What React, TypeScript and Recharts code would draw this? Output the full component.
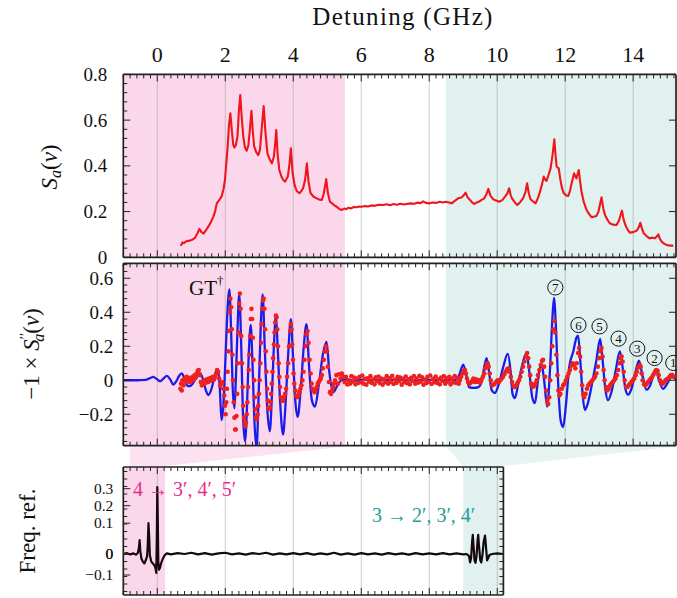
import React from 'react';
import { ComposedChart, Line, Scatter, XAxis, YAxis, ReferenceArea, ReferenceLine, ReferenceDot } from 'recharts';

const W = 677;
const H = 598;
const FONT = '"Liberation Serif", "DejaVu Serif", serif';

// ---------- layout (pixels) ----------
const PL = 123.3;
const PR_MAIN = 676;
const PR_REF = 503.4;
const TOP_Y0 = 74.4, TOP_Y1 = 257.3;
const MID_Y0 = 263.3, MID_Y1 = 445.7;
const REF_Y0 = 467, REF_Y1 = 595;
const AX = 1; // reserved axis thickness

// ---------- axes / ticks ----------
const xDomainMain: [number, number] = [-1, 15.26];
const xDomainRef: [number, number] = [-1, 10.18];
const xMajorTicks = [0, 2, 4, 6, 8, 10, 12, 14];
const xMajorLabels = ['0', '2', '4', '6', '8', '10', '12', '14'];
const xRefMajorTicks = [0, 2, 4, 6, 8, 10];
const topYTicks = [0, 0.2, 0.4, 0.6, 0.8];
const topYLabels = ['0', '0.2', '0.4', '0.6', '0.8'];
const midYTicks = [-0.2, 0, 0.2, 0.4, 0.6];
const midYLabels = ['\u22120.2', '0', '0.2', '0.4', '0.6'];
const freqYTicks = [-0.1, 0, 0.1, 0.2, 0.3];
const freqYLabels = ['\u22120.1', '0', '0.1', '0.2', '0.3'];
// pixel offset of each Freq. ref. tick above the zero line (the axis is not linear)
const freqYTickOffsets = [-21, 0, 30.8, 48.3, 65.3];
const freqYDomain: [number, number] = [-41, 87];

// shaded bands (GHz)
const pinkBand = [-1, 5.52];
const tealBand = [8.49, 15.26];
const refPinkBand = [-1, 0.23];
const refTealBand = [9.0, 10.18];
const trapPinkTop = [-0.8, 5.52];
const trapPinkBottom = [-0.8, 0.23];
const trapTealTop = [8.49, 15.26];
const trapTealBottom = [9.0, 10.18];

// ---------- data ----------
const spectrum: [number, number][] = [
  [0.69,0.05],[0.74,0.065],[0.78,0.062],[0.85,0.07],[0.96,0.073],[1.04,0.078],[1.11,0.085],[1.18,0.105],[1.24,0.124],[1.30,0.11],
  [1.36,0.104],[1.43,0.118],[1.50,0.134],[1.58,0.155],[1.65,0.178],[1.70,0.2],[1.75,0.236],[1.82,0.25],[1.89,0.265],[1.95,0.3],
  [1.99,0.338],[2.03,0.41],[2.07,0.484],[2.11,0.58],[2.15,0.63],[2.19,0.56],[2.23,0.495],[2.27,0.48],[2.31,0.49],[2.36,0.53],
  [2.40,0.64],[2.44,0.71],[2.48,0.62],[2.53,0.528],[2.58,0.48],[2.63,0.466],[2.68,0.49],[2.73,0.57],[2.77,0.641],[2.81,0.55],
  [2.85,0.485],[2.91,0.46],[2.97,0.447],[3.02,0.47],[3.07,0.56],[3.13,0.662],[3.18,0.55],[3.24,0.455],[3.30,0.43],[3.37,0.411],
  [3.43,0.44],[3.47,0.5],[3.50,0.557],[3.54,0.45],[3.59,0.382],[3.66,0.35],[3.72,0.336],[3.76,0.331],[3.84,0.353],[3.89,0.41],
  [3.93,0.477],[3.98,0.37],[4.04,0.316],[4.10,0.29],[4.18,0.28],[4.24,0.29],[4.29,0.302],[4.35,0.34],[4.40,0.411],[4.45,0.33],
  [4.51,0.28],[4.60,0.265],[4.69,0.258],[4.77,0.252],[4.84,0.251],[4.90,0.28],[4.97,0.342],[5.02,0.28],[5.08,0.243],[5.15,0.235],
  [5.22,0.226],[5.28,0.221],[5.35,0.212],[5.42,0.207],[5.50,0.213],[5.56,0.21],[5.62,0.217],[5.70,0.214],[5.78,0.22],[5.86,0.219],
  [5.95,0.222],[6.01,0.221],[6.10,0.224],[6.20,0.222],[6.30,0.227],[6.40,0.225],[6.50,0.23],[6.65,0.229],[6.75,0.232],[6.85,0.228],
  [6.95,0.233],[7.05,0.23],[7.15,0.234],[7.25,0.231],[7.33,0.233],[7.45,0.236],[7.55,0.234],[7.65,0.239],[7.75,0.237],[7.82,0.245],
  [7.90,0.238],[8.01,0.236],[8.10,0.24],[8.20,0.238],[8.31,0.243],[8.40,0.24],[8.49,0.243],[8.58,0.24],[8.66,0.236],[8.75,0.247],
  [8.85,0.258],[8.95,0.262],[9.02,0.272],[9.07,0.283],[9.13,0.262],[9.20,0.251],[9.26,0.24],[9.32,0.233],[9.40,0.24],[9.47,0.244],
  [9.54,0.251],[9.62,0.258],[9.68,0.275],[9.74,0.299],[9.80,0.27],[9.88,0.254],[9.97,0.248],[10.06,0.243],[10.15,0.25],[10.23,0.265],
  [10.30,0.28],[10.35,0.302],[10.40,0.27],[10.45,0.254],[10.52,0.24],[10.59,0.229],[10.67,0.24],[10.76,0.258],[10.83,0.285],[10.88,0.324],
  [10.93,0.28],[10.98,0.254],[11.05,0.245],[11.13,0.236],[11.20,0.26],[11.26,0.287],[11.32,0.32],[11.37,0.353],[11.41,0.34],[11.45,0.334],
  [11.51,0.36],[11.57,0.389],[11.63,0.45],[11.68,0.516],[11.72,0.44],[11.75,0.396],[11.81,0.389],[11.86,0.338],[11.91,0.3],[11.96,0.28],
  [12.03,0.27],[12.09,0.268],[12.14,0.29],[12.19,0.324],[12.26,0.367],[12.33,0.345],[12.40,0.382],[12.44,0.33],[12.48,0.287],[12.55,0.24],
  [12.63,0.207],[12.70,0.19],[12.78,0.175],[12.86,0.178],[12.92,0.181],[12.98,0.2],[13.03,0.235],[13.07,0.262],[13.12,0.215],[13.17,0.185],
  [13.24,0.165],[13.31,0.149],[13.40,0.143],[13.51,0.141],[13.58,0.16],[13.63,0.185],[13.67,0.204],[13.72,0.165],[13.77,0.141],[13.84,0.12],
  [13.90,0.108],[14.00,0.11],[14.10,0.116],[14.16,0.13],[14.21,0.151],[14.26,0.125],[14.31,0.105],[14.40,0.092],[14.49,0.083],[14.57,0.086],
  [14.64,0.083],[14.70,0.092],[14.74,0.1],[14.79,0.08],[14.84,0.068],[14.91,0.06],[14.98,0.054],[15.05,0.052],[15.13,0.051],[15.18,0.05],
];

const theory: [number, number][] = [
  [-1,0],[-0.6,0],[-0.35,0.002],[-0.22,0.012],[-0.12,0.02],[-0.02,0.008],[0.08,-0.006],[0.18,0.01],[0.28,0.026],[0.38,0.005],
  [0.47,-0.026],[0.56,-0.005],[0.64,0.025],[0.72,0.04],[0.8,0.01],[0.9,-0.035],[1.0,-0.03],[1.1,0.0],[1.2,0.035],[1.27,0.04],
  [1.35,0.0],[1.43,-0.06],[1.5,-0.087],[1.58,-0.06],[1.66,0.0],[1.74,0.055],[1.79,0.06],[1.84,-0.05],[1.89,-0.235],[1.94,-0.16],
  [1.99,0.05],[2.05,0.35],[2.12,0.535],[2.17,0.3],[2.22,-0.05],[2.27,-0.165],[2.31,0.0],[2.36,0.3],[2.41,0.505],[2.47,0.2],
  [2.52,-0.2],[2.58,-0.36],[2.64,-0.15],[2.69,0.15],[2.75,0.325],[2.80,0.1],[2.86,-0.25],[2.92,-0.4],[2.98,-0.1],[3.04,0.3],
  [3.10,0.505],[3.16,0.2],[3.23,-0.15],[3.31,-0.3],[3.37,-0.1],[3.43,0.2],[3.49,0.38],[3.54,0.2],[3.62,-0.15],[3.70,-0.32],
  [3.77,-0.15],[3.85,0.15],[3.93,0.36],[3.99,0.15],[4.06,-0.12],[4.13,-0.215],[4.22,-0.05],[4.31,0.2],[4.39,0.33],[4.46,0.1],
  [4.55,-0.12],[4.64,-0.155],[4.75,-0.03],[4.87,0.15],[4.98,0.225],[5.06,0.05],[5.18,-0.07],[5.3,-0.03],[5.42,0.0],[5.6,0.005],
  [5.8,-0.003],[6.0,0.004],[6.5,0.0],[7.0,0.003],[7.5,-0.002],[8.0,0.002],[8.5,0.0],[8.75,0.0],[8.88,0.03],[9.0,0.092],
  [9.1,0.02],[9.17,-0.04],[9.3,-0.045],[9.45,-0.04],[9.55,0.0],[9.62,0.08],[9.69,0.13],[9.76,0.05],[9.84,-0.06],[9.93,-0.075],
  [10.05,-0.02],[10.18,0.08],[10.31,0.155],[10.4,0.04],[10.45,-0.08],[10.52,-0.105],[10.62,-0.02],[10.75,0.1],[10.86,0.16],[10.95,0.04],
  [11.03,-0.1],[11.11,-0.135],[11.2,0.0],[11.3,0.1],[11.38,0.0],[11.47,-0.155],[11.55,0.05],[11.62,0.35],[11.67,0.485],[11.73,0.3],
  [11.8,-0.05],[11.87,-0.24],[11.94,-0.275],[12.02,-0.15],[12.12,0.08],[12.24,0.17],[12.33,0.25],[12.38,0.262],[12.45,0.1],[12.52,-0.1],
  [12.58,-0.175],[12.66,-0.14],[12.78,-0.03],[12.92,0.12],[13.03,0.243],[13.1,0.12],[13.18,-0.05],[13.26,-0.118],[13.36,-0.07],[13.48,0.05],
  [13.61,0.17],[13.7,0.06],[13.77,-0.05],[13.85,-0.085],[13.95,-0.05],[14.06,0.04],[14.17,0.115],[14.27,0.03],[14.39,-0.055],[14.5,-0.03],
  [14.58,0.02],[14.67,0.066],[14.76,0.0],[14.88,-0.051],[15.0,-0.02],[15.1,0.015],[15.18,0.027],[15.26,0.0],
];

const measured: [number, number][] = [
  [0.68,-0.05],[0.70,-0.02],[0.72,-0.06],[0.74,0.0],[0.77,-0.03],[0.80,0.01],[0.83,-0.01],[0.86,0.02],[0.89,0.0],[0.92,0.015],
  [0.95,-0.01],[0.98,0.01],[1.01,-0.005],[1.04,0.02],[1.07,0.005],[1.10,0.03],[1.13,0.015],[1.16,0.04],[1.19,0.055],[1.22,0.06],
  [1.25,0.03],[1.28,-0.01],[1.31,-0.03],[1.34,-0.01],[1.37,-0.02],[1.40,0.0],[1.43,-0.015],[1.46,0.005],[1.49,-0.01],[1.52,0.01],
  [1.55,-0.005],[1.58,0.015],[1.61,0.0],[1.64,0.02],[1.67,0.005],[1.70,0.02],[1.73,0.04],[1.76,0.06],[1.79,0.05],[1.82,0.01],
  [1.85,-0.03],[1.88,-0.02],[1.91,-0.01],[1.94,-0.05],[1.97,-0.09],[1.99,-0.15],[2.01,-0.2],[2.03,-0.13],[2.05,-0.05],[2.07,0.05],
  [2.09,0.17],[2.11,0.29],[2.13,0.4],[2.15,0.48],[2.17,0.43],[2.19,0.3],[2.21,0.15],[2.23,0.0],[2.25,-0.13],[2.27,-0.22],
  [2.29,-0.29],[2.31,-0.29],[2.33,-0.21],[2.35,-0.08],[2.37,0.1],[2.39,0.28],[2.41,0.45],[2.43,0.51],[2.45,0.42],[2.47,0.26],
  [2.49,0.1],[2.51,-0.04],[2.53,-0.15],[2.55,-0.22],[2.57,-0.25],[2.59,-0.27],[2.61,-0.25],[2.63,-0.2],[2.65,-0.13],[2.67,-0.04],
  [2.69,0.06],[2.71,0.15],[2.73,0.26],[2.75,0.36],[2.77,0.42],[2.79,0.36],[2.81,0.25],[2.83,0.12],[2.85,0.0],[2.87,-0.1],
  [2.89,-0.17],[2.91,-0.22],[2.93,-0.23],[2.95,-0.2],[2.97,-0.15],[2.99,-0.08],[3.01,0.0],[3.03,0.1],[3.05,0.22],[3.07,0.33],
  [3.09,0.42],[3.11,0.47],[3.13,0.48],[3.15,0.42],[3.17,0.3],[3.19,0.17],[3.21,0.05],[3.23,-0.05],[3.25,-0.12],[3.27,-0.16],
  [3.29,-0.17],[3.31,-0.16],[3.33,-0.13],[3.35,-0.08],[3.37,-0.02],[3.39,0.05],[3.41,0.13],[3.43,0.21],[3.45,0.28],[3.47,0.34],
  [3.49,0.38],[3.51,0.37],[3.53,0.3],[3.55,0.2],[3.57,0.1],[3.59,0.02],[3.61,-0.04],[3.64,-0.1],[3.67,-0.12],[3.70,-0.12],
  [3.73,-0.1],[3.76,-0.08],[3.79,-0.05],[3.82,0.02],[3.85,0.1],[3.88,0.2],[3.91,0.29],[3.93,0.33],[3.95,0.3],[3.97,0.21],
  [3.99,0.12],[4.01,0.04],[4.03,-0.02],[4.06,-0.06],[4.09,-0.09],[4.12,-0.1],[4.15,-0.09],[4.18,-0.07],[4.21,-0.05],[4.24,-0.03],
  [4.27,0.0],[4.30,0.05],[4.33,0.12],[4.36,0.2],[4.39,0.27],[4.42,0.29],[4.45,0.22],[4.48,0.12],[4.51,0.04],[4.54,-0.02],
  [4.57,-0.05],[4.60,-0.06],[4.63,-0.07],[4.66,-0.06],[4.69,-0.04],[4.72,-0.02],[4.75,-0.01],[4.78,0.0],[4.81,0.01],[4.84,0.03],
  [4.87,0.07],[4.90,0.12],[4.93,0.17],[4.96,0.2],[4.99,0.17],[5.02,0.08],[5.05,-0.01],[5.08,-0.07],[5.11,-0.08],[5.14,-0.06],
  [5.17,-0.04],[5.20,-0.02],[5.23,0.0],[5.27,0.03],[5.31,-0.02],[5.35,0.035],[5.39,0.01],[5.43,0.04],[5.47,0.02],[5.51,-0.01],
  [5.55,0.02],[5.59,-0.025],[5.63,0.0],[5.67,-0.02],[5.71,0.024],[5.75,-0.008],[5.79,0.016],[5.83,-0.024],[5.87,0.01],[5.91,-0.016],
  [5.95,0.02],[5.99,-0.012],[6.03,0.028],[6.07,-0.02],[6.11,0.008],[6.15,-0.026],[6.19,0.012],[6.23,-0.008],[6.27,0.024],[6.31,-0.016],
  [6.35,0.004],[6.39,-0.024],[6.43,0.018],[6.47,-0.006],[6.51,0.022],[6.55,-0.018],[6.59,0.01],[6.63,-0.026],[6.67,0.006],[6.71,-0.012],
  [6.75,0.024],[6.79,-0.02],[6.83,0.012],[6.87,-0.01],[6.91,0.026],[6.95,-0.022],[6.99,0.004],[7.03,-0.016],[7.07,0.02],[7.11,-0.006],
  [7.15,0.016],[7.19,-0.026],[7.23,0.008],[7.27,-0.012],[7.31,0.022],[7.35,-0.018],[7.39,0.006],[7.43,-0.024],[7.47,0.014],[7.51,-0.004],
  [7.55,0.024],[7.59,-0.02],[7.63,0.01],[7.67,-0.014],[7.71,0.026],[7.75,-0.008],[7.79,0.018],[7.83,-0.026],[7.87,0.004],[7.91,-0.018],
  [7.95,0.02],[7.99,-0.01],[8.03,0.028],[8.07,-0.022],[8.11,0.008],[8.15,-0.012],[8.19,0.022],[8.23,-0.016],[8.27,0.006],[8.31,-0.024],
  [8.35,0.016],[8.39,-0.004],[8.43,0.024],[8.47,-0.02],[8.51,0.012],[8.55,-0.008],[8.59,0.02],[8.63,-0.024],[8.67,0.008],[8.71,-0.012],
  [8.75,0.024],[8.79,-0.016],[8.83,0.012],[8.87,-0.02],[8.90,0.0],[8.94,0.02],[8.98,0.04],[9.02,0.055],[9.05,0.06],[9.08,0.04],
  [9.11,0.01],[9.14,-0.01],[9.18,-0.02],[9.22,-0.015],[9.26,-0.005],[9.30,0.01],[9.34,-0.01],[9.38,0.005],[9.42,-0.01],[9.46,0.0],
  [9.50,-0.015],[9.54,0.005],[9.58,0.02],[9.62,0.04],[9.65,0.07],[9.69,0.095],[9.72,0.1],[9.75,0.08],[9.78,0.04],[9.81,0.0],
  [9.85,-0.03],[9.89,-0.025],[9.93,-0.02],[9.97,-0.01],[10.01,0.0],[10.05,-0.01],[10.09,0.0],[10.13,0.01],[10.17,0.02],[10.21,0.035],
  [10.25,0.05],[10.29,0.065],[10.33,0.07],[10.36,0.05],[10.40,0.02],[10.44,-0.01],[10.48,-0.035],[10.52,-0.04],[10.56,-0.03],[10.60,-0.015],
  [10.64,0.0],[10.68,0.02],[10.72,0.05],[10.76,0.08],[10.80,0.11],[10.84,0.14],[10.88,0.16],[10.91,0.13],[10.94,0.08],[10.97,0.03],
  [11.00,-0.02],[11.04,-0.04],[11.08,-0.035],[11.12,-0.02],[11.16,0.0],[11.20,0.03],[11.24,0.06],[11.28,0.09],[11.32,0.115],[11.35,0.12],
  [11.38,0.08],[11.41,0.02],[11.44,-0.06],[11.47,-0.12],[11.50,-0.14],[11.53,-0.1],[11.56,0.0],[11.59,0.1],[11.62,0.2],[11.65,0.3],
  [11.68,0.35],[11.71,0.28],[11.74,0.15],[11.77,0.03],[11.80,-0.06],[11.83,-0.09],[11.86,-0.08],[11.90,-0.05],[11.94,-0.03],[11.98,-0.02],
  [12.02,0.0],[12.06,0.02],[12.10,0.04],[12.14,0.06],[12.18,0.085],[12.22,0.1],[12.26,0.09],[12.30,0.07],[12.34,0.1],[12.38,0.16],
  [12.41,0.19],[12.44,0.14],[12.47,0.05],[12.50,-0.03],[12.53,-0.08],[12.56,-0.1],[12.60,-0.08],[12.64,-0.05],[12.68,-0.03],[12.72,-0.02],
  [12.76,-0.01],[12.80,0.0],[12.84,0.01],[12.88,0.02],[12.92,0.04],[12.96,0.08],[13.00,0.13],[13.04,0.17],[13.07,0.19],[13.10,0.14],
  [13.13,0.06],[13.16,0.0],[13.20,-0.04],[13.24,-0.06],[13.28,-0.05],[13.32,-0.03],[13.36,-0.02],[13.40,-0.01],[13.44,0.0],[13.48,0.01],
  [13.52,0.03],[13.56,0.06],[13.60,0.1],[13.63,0.13],[13.66,0.14],[13.69,0.11],[13.72,0.05],[13.75,0.0],[13.79,-0.04],[13.83,-0.04],
  [13.87,-0.03],[13.91,-0.02],[13.95,-0.01],[13.99,0.0],[14.03,0.01],[14.07,0.03],[14.11,0.05],[14.15,0.075],[14.19,0.09],[14.22,0.08],
  [14.25,0.04],[14.28,0.0],[14.32,-0.025],[14.36,-0.03],[14.40,-0.02],[14.44,-0.01],[14.48,0.0],[14.52,0.01],[14.56,0.02],[14.60,0.035],
  [14.64,0.05],[14.68,0.06],[14.72,0.055],[14.75,0.03],[14.79,0.0],[14.83,-0.02],[14.87,-0.02],[14.91,-0.01],[14.95,0.0],[14.99,0.005],
  [15.03,0.01],[15.07,0.02],[15.11,0.03],[15.15,0.03],[15.19,0.02],
];

const freqRef: [number, number][] = [
  [-1,0],[-0.9,0.003],[-0.8,-0.002],[-0.7,0.002],[-0.62,-0.003],[-0.57,0.004],[-0.54,0.02],[-0.52,0.045],[-0.5,0.01],[-0.47,-0.02],
  [-0.43,-0.035],[-0.38,-0.045],[-0.34,-0.03],[-0.3,-0.01],[-0.28,0.03],[-0.26,0.1],[-0.24,0.06],[-0.22,-0.005],[-0.18,-0.035],[-0.13,-0.045],
  [-0.08,-0.055],[-0.05,-0.07],[-0.03,-0.09],[-0.015,0.05],[0.0,0.31],[0.015,0.12],[0.03,-0.04],[0.05,-0.075],[0.08,-0.065],[0.12,-0.04],
  [0.17,-0.02],[0.22,-0.005],[0.28,0.002],[0.4,-0.002],[0.6,0.003],[0.8,0.0],[1.0,0.004],[1.2,-0.002],[1.4,0.003],[1.6,-0.003],
  [1.8,0.002],[2.0,0.004],[2.2,-0.002],[2.4,0.002],[2.6,-0.003],[2.8,0.003],[3.0,0.0],[3.2,0.004],[3.4,-0.003],[3.6,0.002],
  [3.8,-0.002],[4.0,0.003],[4.2,-0.002],[4.4,0.003],[4.6,-0.003],[4.8,0.002],[5.0,-0.002],[5.2,0.004],[5.4,-0.003],[5.6,0.002],
  [5.8,-0.003],[6.0,0.003],[6.2,-0.002],[6.4,0.002],[6.6,-0.003],[6.8,0.003],[7.0,-0.002],[7.2,0.002],[7.4,-0.003],[7.6,0.003],
  [7.8,-0.002],[8.0,0.002],[8.2,-0.002],[8.4,0.003],[8.6,-0.002],[8.8,0.002],[9.0,-0.002],[9.1,0.0],[9.17,-0.01],[9.2,-0.04],
  [9.23,-0.02],[9.26,0.04],[9.28,0.062],[9.3,0.03],[9.33,-0.03],[9.36,-0.042],[9.39,-0.01],[9.42,0.045],[9.44,0.062],[9.46,0.03],
  [9.5,-0.03],[9.53,-0.04],[9.56,-0.01],[9.6,0.04],[9.64,0.06],[9.67,0.02],[9.7,-0.03],[9.73,-0.02],[9.77,-0.005],[9.85,0.0],
  [10.0,0.002],[10.18,0.0],
];

const circledLabels = [
  { n: '7', x: 11.71, y: 0.546 },
  { n: '6', x: 12.39, y: 0.325 },
  { n: '5', x: 13.01, y: 0.317 },
  { n: '4', x: 13.57, y: 0.245 },
  { n: '3', x: 14.12, y: 0.186 },
  { n: '2', x: 14.63, y: 0.131 },
  { n: '1', x: 15.18, y: 0.102 },
];

// ---------- helpers ----------
function steps(a: number, b: number, s: number): number[] {
  const out: number[] = [];
  for (let i = 0; a + i * s <= b + 1e-9; i++) out.push(Math.round((a + i * s) * 10000) / 10000);
  return out;
}
// Freq. ref. axis: piecewise-linear position through the tick anchors
function freqPos(v: number): number {
  const t = freqYTicks, p = freqYTickOffsets;
  const n = t.length;
  if (v <= t[0]) return p[0] + (v - t[0]) * (p[1] - p[0]) / (t[1] - t[0]);
  if (v >= t[n - 1]) return p[n - 1] + (v - t[n - 1]) * (p[n - 1] - p[n - 2]) / (t[n - 1] - t[n - 2]);
  for (let i = 0; i < n - 1; i++) {
    if (v >= t[i] && v <= t[i + 1]) return p[i] + (v - t[i]) * (p[i + 1] - p[i]) / (t[i + 1] - t[i]);
  }
  return 0;
}
const toPts = (a: [number, number][]) => a.map(([x, y]) => ({ x, y }));

const spectrumPts = toPts(spectrum);
const theoryPts = toPts(theory);
const measuredPts = toPts(measured);
const freqPts = freqRef.map(([x, y]) => ({ x, y: freqPos(y) }));

const xMinorMain = steps(-1, 15.2, 0.2);
const xMinorRef = steps(-1, 10.1, 0.2);
const topYMinor = steps(0, 0.8, 0.04);
const midYMinor = steps(-0.36, 0.68, 0.04);
const freqYMinor = steps(-37.5, 82.5, 7.5);

const INK = '#222';

const FrameTick = (props: any) => {
  const { x, y, payload, side, majors, labels, gap = 9, fontSize = 19, minorLen = 4, majorLen = 7 } = props;
  const v = payload ? payload.value : 0;
  const mi = majors ? majors.findIndex((m: number) => Math.abs(m - v) < 1e-6) : -1;
  const isMajor = mi >= 0;
  const len = isMajor ? majorLen : minorLen;
  let x2 = x, y2 = y;
  if (side === 'bottom') y2 = y - len;
  if (side === 'top') y2 = y + len;
  if (side === 'left') x2 = x + len;
  if (side === 'right') x2 = x - len;
  let label: any = null;
  if (isMajor && labels) {
    if (side === 'top') {
      label = <text x={x} y={y - gap} textAnchor="middle" fontSize={fontSize} fontFamily={FONT} fill="#111">{labels[mi]}</text>;
    } else if (side === 'left') {
      label = <text x={x - gap} y={y} dy="0.34em" textAnchor="end" fontSize={fontSize} fontFamily={FONT} fill="#111">{labels[mi]}</text>;
    }
  }
  return (
    <g>
      <line x1={x} y1={y} x2={x2} y2={y2} stroke={INK} strokeWidth={1} />
      {label}
    </g>
  );
};

const axisLine = { stroke: INK, strokeWidth: 1.7 };

function frameAxes(opts: {
  xDomain: [number, number]; yDomain: [number, number]; xTicks: number[]; xMajors: number[]; xLabels?: string[];
  yTicks: number[]; yMajors: number[]; yLabels: string[]; rTicks: number[]; gap: number; yFont?: number;
}) {
  return [
    <XAxis key="xb" xAxisId="b" dataKey="x" type="number" domain={opts.xDomain} allowDataOverflow ticks={opts.xTicks} interval={0}
      height={AX} tickSize={0} tickMargin={0} tickLine={false} axisLine={axisLine}
      tick={<FrameTick side="bottom" majors={opts.xMajors} />} />,
    <XAxis key="xt" xAxisId="t" orientation="top" dataKey="x" type="number" domain={opts.xDomain} allowDataOverflow ticks={opts.xTicks} interval={0}
      height={AX} tickSize={0} tickMargin={0} tickLine={false} axisLine={axisLine}
      tick={<FrameTick side="top" majors={opts.xMajors} labels={opts.xLabels} gap={12} fontSize={22} />} />,
    <YAxis key="yl" yAxisId="l" dataKey="y" type="number" domain={opts.yDomain} allowDataOverflow ticks={opts.yTicks} interval={0}
      width={AX} tickSize={0} tickMargin={0} tickLine={false} axisLine={axisLine}
      tick={<FrameTick side="left" majors={opts.yMajors} labels={opts.yLabels} gap={opts.gap} fontSize={opts.yFont || 19} />} />,
    <YAxis key="yr" yAxisId="r" orientation="right" dataKey="y" type="number" domain={opts.yDomain} allowDataOverflow ticks={opts.rTicks} interval={0}
      width={AX} tickSize={0} tickMargin={0} tickLine={false} axisLine={axisLine}
      tick={<FrameTick side="right" majors={opts.yMajors} />} />,
  ];
}

const PINK = '#fbd7eb';
const TEAL = '#e1f1ef';
const GRID = '#9a9a9a';

function bands(x1a: number, x2a: number, x1b: number, x2b: number) {
  return [
    <ReferenceArea key="pb" xAxisId="b" yAxisId="l" x1={x1a} x2={x2a} fill={PINK} fillOpacity={1} stroke="none" ifOverflow="hidden" zIndex={-60} />,
    <ReferenceArea key="tb" xAxisId="b" yAxisId="l" x1={x1b} x2={x2b} fill={TEAL} fillOpacity={1} stroke="none" ifOverflow="hidden" zIndex={-60} />,
  ];
}
function gridLines(ticks: number[]) {
  return ticks.map((v) => (
    <ReferenceLine key={'g' + v} xAxisId="b" yAxisId="l" x={v} stroke={GRID} strokeOpacity={0.5} strokeWidth={1} zIndex={-50} />
  ));
}

const chartBox: React.CSSProperties = { position: 'absolute', left: 0, top: 0 };
const mrg = (y0: number, y1: number, r: number) => ({ top: y0 - AX, bottom: H - y1 - AX, left: PL - AX, right: W - r - AX });

function TopPanel() {
  return (
    <div style={chartBox}>
      <ComposedChart width={W} height={H} margin={mrg(TOP_Y0, TOP_Y1, PR_MAIN)}>
        {frameAxes({ xDomain: xDomainMain, yDomain: [0, 0.8], xTicks: xMinorMain, xMajors: xMajorTicks, xLabels: xMajorLabels,
          yTicks: topYMinor, yMajors: topYTicks, yLabels: topYLabels, rTicks: topYTicks, gap: 16 })}
        {bands(pinkBand[0], pinkBand[1], tealBand[0], tealBand[1])}
        {gridLines(xMajorTicks)}
        <Line xAxisId="b" yAxisId="l" data={spectrumPts} dataKey="y" type="linear" stroke="#f0141c" strokeWidth={2.1}
          strokeLinejoin="round" dot={false} isAnimationActive={false} />
      </ComposedChart>
    </div>
  );
}

function MidPanel() {
  return (
    <div style={chartBox}>
      <ComposedChart width={W} height={H} margin={mrg(MID_Y0, MID_Y1, PR_MAIN)}>
        {frameAxes({ xDomain: xDomainMain, yDomain: [-0.385, 0.688], xTicks: xMinorMain, xMajors: xMajorTicks,
          yTicks: midYMinor, yMajors: midYTicks, yLabels: midYLabels, rTicks: midYTicks, gap: 10 })}
        {bands(pinkBand[0], pinkBand[1], tealBand[0], tealBand[1])}
        {gridLines(xMajorTicks)}
        <Line xAxisId="b" yAxisId="l" data={theoryPts} dataKey="y" type="monotone" stroke="#1c1ce8" strokeWidth={2.3}
          strokeLinejoin="round" dot={false} isAnimationActive={false} />
        <Scatter xAxisId="b" yAxisId="l" data={measuredPts} dataKey="y" isAnimationActive={false}
          shape={(p: any) => <circle cx={p.cx} cy={p.cy} r={2.3} fill="#ee2020" />} />
        {circledLabels.map((c) => (
          <ReferenceDot key={'c' + c.n} xAxisId="b" yAxisId="l" x={c.x} y={c.y} r={7.5} ifOverflow="visible"
            shape={(p: any) => (
              <g>
                <circle cx={p.cx} cy={p.cy} r={7.6} fill="none" stroke="#111" strokeWidth={1} />
                <text x={p.cx} y={p.cy} dy="0.35em" textAnchor="middle" fontSize={13} fontFamily={FONT} fill="#111">{c.n}</text>
              </g>
            )} />
        ))}
      </ComposedChart>
    </div>
  );
}

function RefPanel() {
  return (
    <div style={chartBox}>
      <ComposedChart width={W} height={H} margin={mrg(REF_Y0, REF_Y1, PR_REF)}>
        {frameAxes({ xDomain: xDomainRef, yDomain: freqYDomain, xTicks: xMinorRef, xMajors: xRefMajorTicks,
          yTicks: [...freqYMinor, ...freqYTickOffsets], yMajors: freqYTickOffsets, yLabels: freqYLabels, rTicks: freqYMinor, gap: 10, yFont: 15.5 })}
        {bands(refPinkBand[0], refPinkBand[1], refTealBand[0], refTealBand[1])}
        {gridLines(xRefMajorTicks)}
        <Line xAxisId="b" yAxisId="l" data={freqPts} dataKey="y" type="linear" stroke="#140a0e" strokeWidth={2.2}
          strokeLinejoin="round" dot={false} isAnimationActive={false} />
      </ComposedChart>
    </div>
  );
}

const pxMain = (v: number) => PL + (v - xDomainMain[0]) / (xDomainMain[1] - xDomainMain[0]) * (PR_MAIN - PL);
const pxRef = (v: number) => PL + (v - xDomainRef[0]) / (xDomainRef[1] - xDomainRef[0]) * (PR_REF - PL);

function Connectors() {
  const y0 = MID_Y1 + 0.9, y1 = REF_Y0 - 0.9;
  const pink = `${pxMain(trapPinkTop[0])},${y0} ${pxMain(trapPinkTop[1])},${y0} ${pxRef(trapPinkBottom[1])},${y1} ${pxRef(trapPinkBottom[0])},${y1}`;
  const teal = `${pxMain(trapTealTop[0])},${y0} ${pxMain(trapTealTop[1])},${y0} ${pxRef(trapTealBottom[1])},${y1} ${pxRef(trapTealBottom[0])},${y1}`;
  return (
    <svg width={W} height={H} style={{ position: 'absolute', left: 0, top: 0 }}>
      <polygon points={pink} fill="#fce2f0" />
      <polygon points={teal} fill="#e7f4f2" />
    </svg>
  );
}

function Texts() {
  return (
    <svg width={W} height={H} style={{ position: 'absolute', left: 0, top: 0, pointerEvents: 'none' }} fontFamily={FONT} fill="#111">
      <text x={403} y={25} textAnchor="middle" fontSize={25} letterSpacing={1.3}>Detuning (GHz)</text>
      <text transform="translate(57,167) rotate(-90)" textAnchor="middle" fontSize={23}>
        <tspan fontStyle="italic">S</tspan>
        <tspan fontStyle="italic" fontSize={16} dy={4}>a</tspan>
        <tspan dy={-4}>(</tspan>
        <tspan fontStyle="italic">ν</tspan>
        <tspan>)</tspan>
      </text>
      <text transform="translate(39,354) rotate(-90)" textAnchor="middle" fontSize={23}>
        <tspan>−1 × </tspan>
        <tspan fontStyle="italic">S</tspan>
        <tspan fontSize={15} dy={-9}>′′</tspan>
        <tspan fontStyle="italic" fontSize={16} dx={-9} dy={14}>a</tspan>
        <tspan dy={-5}>(</tspan>
        <tspan fontStyle="italic">ν</tspan>
        <tspan>)</tspan>
      </text>
      <text transform="translate(35,531) rotate(-90)" textAnchor="middle" fontSize={23}>Freq. ref.</text>
      <text x={189} y={295} fontSize={21}>GT<tspan fontSize={13} dy={-10}>†</tspan></text>
      <text x={133} y={496} fontSize={20} fill="#ec2a8c">4 → 3′, 4′, 5′</text>
      <text x={372} y={522} fontSize={20} fill="#2a9b98">3 → 2′, 3′, 4′</text>
    </svg>
  );
}

export default function App() {
  return (
    <div style={{ position: 'absolute', left: 0, top: 0, width: W, height: H, background: '#fff', overflow: 'hidden' }}>
      <Connectors />
      <TopPanel />
      <MidPanel />
      <RefPanel />
      <Texts />
    </div>
  );
}
